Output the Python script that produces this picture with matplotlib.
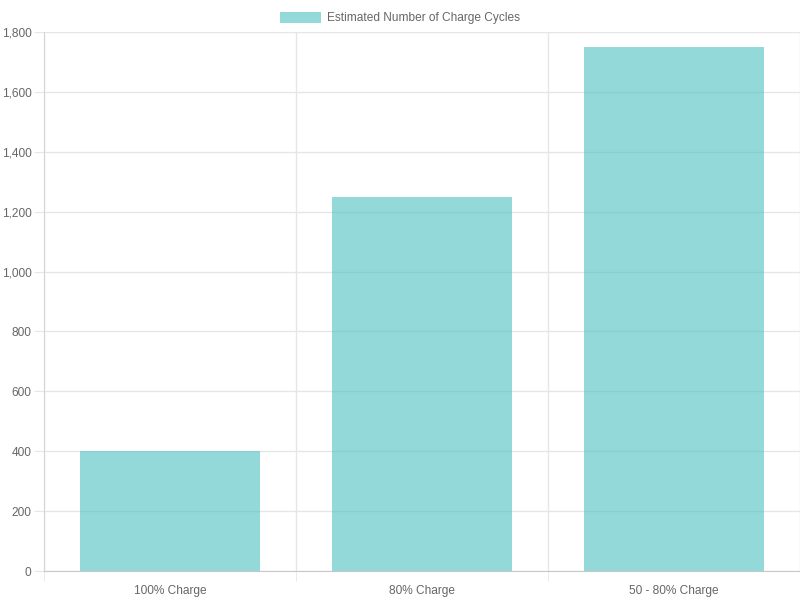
import matplotlib.pyplot as plt
from matplotlib.ticker import FuncFormatter, MultipleLocator

plt.rcParams['font.family'] = ['Liberation Sans', 'DejaVu Sans']

# data
categories = ["100% Charge", "80% Charge", "50 - 80% Charge"]
cycles = [400, 1250, 1750]
series_name = "Estimated Number of Charge Cycles"

fig = plt.figure(figsize=(8, 6), dpi=100)
ax = fig.add_axes([0.055, 0.0483, 0.945, 0.8984])

x = range(len(categories))
ax.bar(x, cycles, width=0.714, color=(75/255, 192/255, 192/255, 0.6),
       linewidth=0, label=series_name, zorder=2)

ax.set_xlim(-0.5, len(categories) - 0.5)
ax.set_ylim(0, 1800)
ax.yaxis.set_major_locator(MultipleLocator(200))
ax.yaxis.set_major_formatter(FuncFormatter(lambda v, p: f"{int(v):,}"))
ax.set_xticks(list(x))
ax.set_xticklabels(categories)
ax.set_xticks([i - 0.5 for i in range(len(categories) + 1)], minor=True)

grid_c = "#e6e6e6"
ax.set_axisbelow(True)
ax.yaxis.grid(True, color=grid_c, linewidth=1)
ax.xaxis.grid(True, which="minor", color=grid_c, linewidth=1)

for s in ["top", "right"]:
    ax.spines[s].set_visible(False)
ax.spines["left"].set_color("#d4d4d4")
ax.spines["bottom"].set_color("#c8c8c8")

fs = 8.6
ax.tick_params(axis="y", length=7, color=grid_c, labelsize=fs, labelcolor="#666666", pad=2)
ax.tick_params(axis="x", which="major", length=0, labelsize=fs, labelcolor="#666666", pad=10)
ax.tick_params(axis="x", which="minor", length=7, color=grid_c)

fig.legend(loc="upper center", bbox_to_anchor=(0.5, 1.0), frameon=False,
           fontsize=fs, labelcolor="#666666", handlelength=3.4, handleheight=1.0,
           handletextpad=0.5, borderaxespad=0.6)

fig.savefig("out.png", dpi=100)
